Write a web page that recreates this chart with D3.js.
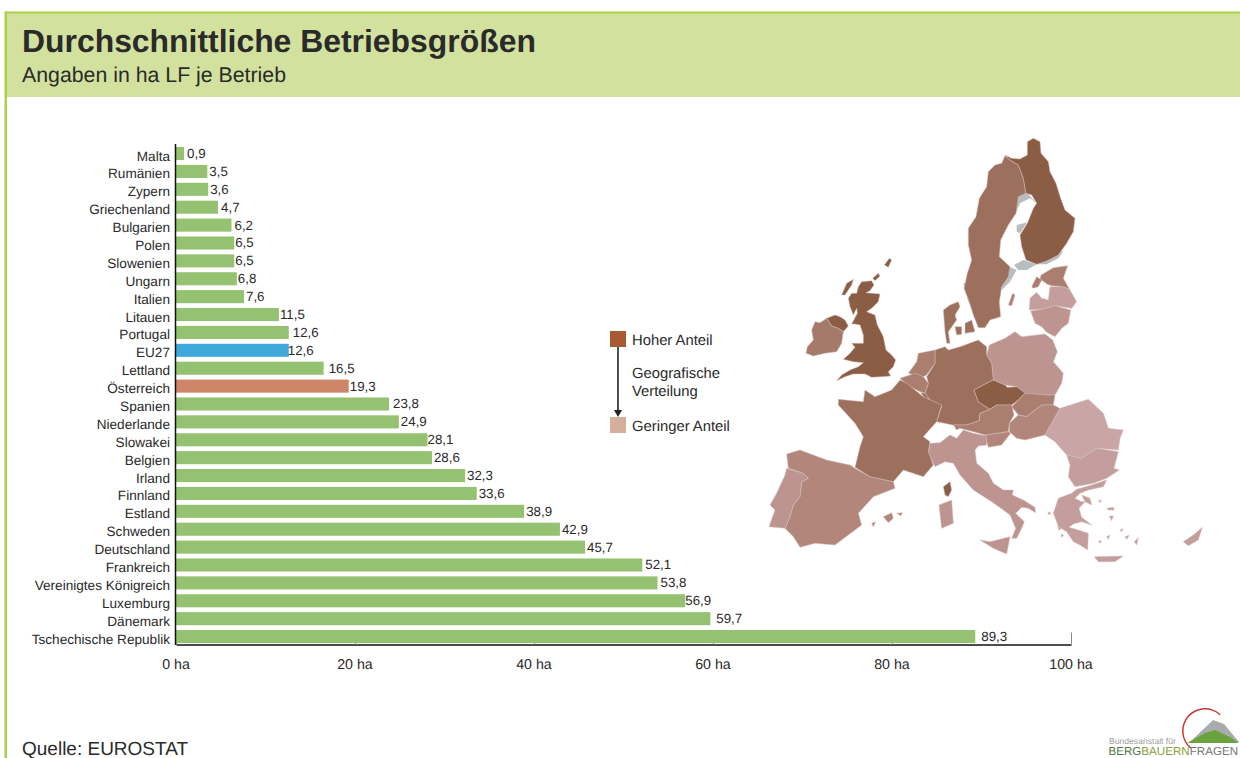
<!DOCTYPE html>
<html><head><meta charset="utf-8">
<script src="https://cdn.jsdelivr.net/npm/d3@7"></script>
<style>html,body{margin:0;padding:0;background:#fff;overflow:hidden}svg{display:block}text{font-family:"Liberation Sans",Arial,sans-serif;fill:#2a2a2a;text-rendering:geometricPrecision}</style>
</head><body><svg id="c" width="1240" height="758"></svg>
<script>
const categories=["Malta","Rumänien","Zypern","Griechenland","Bulgarien","Polen","Slowenien","Ungarn","Italien","Litauen","Portugal","EU27","Lettland","Österreich","Spanien","Niederlande","Slowakei","Belgien","Irland","Finnland","Estland","Schweden","Deutschland","Frankreich","Vereinigtes Königreich","Luxemburg","Dänemark","Tschechische Republik"];
const values=[0.9,3.5,3.6,4.7,6.2,6.5,6.5,6.8,7.6,11.5,12.6,12.6,16.5,19.3,23.8,24.9,28.1,28.6,32.3,33.6,38.9,42.9,45.7,52.1,53.8,56.9,59.7,89.3];
const labelGaps=[3,2,2,3,3,1,1,1,2,1,4,-1,5,1,4,2,0,2,2,2,2,2,2,3,3,0,6,6];
const xTicks=[0,20,40,60,80,100];
const highlight={"EU27":"#3fa9dc","Österreich":"#cf8568"};
const barColor="#95c270";
const tones={a:"#8c5d45",b:"#9d705e",c:"#ab7f70",d:"#b3867b",e:"#bd9490",f:"#c49e9d",g:"#c9a5a5",ie:"#a67a6b"};

// traced outlines: each group has the origin of its tracing sheet in map units
const sheets={uk:[120,360],nord:[540,15],mitte:[390,600],west:[15,750],sued:[495,900],map:[0,0]};
const coastShapes=[
["nord",[[222,390],[250,375],[290,388],[260,405],[235,405]]],
["nord",[[290,388],[330,372],[372,345],[355,370],[320,388]]],
["nord",[[208,395],[230,405],[210,440],[180,470],[178,500],[185,455]]],
["nord",[[232,180],[262,175],[290,205],[270,190],[240,205],[225,240]]],
["nord",[[230,270],[262,262],[240,295],[230,290]]],
["nord",[[70,445],[85,445],[90,490],[100,535],[85,500]]]
];
const mapShapes=[
["uk","a",[[185,95],[215,92],[222,105],[210,122],[198,128],[240,132],[235,155],[215,175],[200,185],[225,195],[232,225],[250,260],[258,300],[275,315],[287,330],[280,350],[265,365],[272,378],[245,380],[215,382],[195,372],[160,372],[135,380],[110,392],[125,375],[150,360],[175,350],[190,338],[160,335],[130,328],[150,310],[165,292],[155,280],[190,280],[190,255],[180,225],[165,222],[155,222],[172,190],[170,175],[160,195],[150,170],[145,145],[155,130],[170,130],[175,110]]],
["uk","a",[[125,135],[140,100],[160,88],[155,105],[135,135]]],
["uk","a",[[253,45],[268,25],[275,30],[265,52]]],
["uk","a",[[218,85],[235,70],[240,78],[225,92]]],
["uk","a",[[80,205],[105,195],[120,200],[135,210],[145,228],[130,245],[115,235],[95,228]]],
["uk","ie",[[45,215],[60,218],[80,205],[95,228],[115,235],[130,245],[125,280],[110,305],[75,310],[40,318],[18,310],[22,290],[40,270],[35,240]]],
["nord","b",[[195,62],[210,75],[235,90],[250,130],[258,175],[235,185],[228,235],[205,270],[182,315],[178,365],[210,395],[205,425],[185,455],[178,500],[182,545],[150,555],[135,578],[115,578],[100,540],[88,500],[72,460],[82,415],[95,375],[85,330],[85,280],[108,245],[118,190],[140,155],[145,110],[165,90],[185,85]]],
["nord","a",[[262,20],[280,10],[300,20],[303,55],[325,80],[330,110],[348,145],[362,190],[375,225],[405,250],[400,290],[380,325],[355,360],[320,378],[290,388],[258,375],[245,335],[240,300],[262,265],[280,220],[290,205],[275,180],[258,175],[250,130],[235,90],[210,75],[195,60],[215,70],[240,72],[262,60]]],
["nord","c",[[205,510],[218,475],[225,480],[215,512]]],
["nord","c",[[303,420],[340,398],[383,392],[370,430],[388,462],[365,455],[335,452],[322,448],[300,432]]],
["nord","c",[[275,455],[290,425],[305,435],[295,455],[280,460]]],
["nord","f",[[268,525],[270,490],[290,472],[305,490],[325,495],[330,455],[365,455],[388,462],[410,500],[395,520],[345,512],[310,522]]],
["nord","e",[[272,528],[310,522],[345,512],[392,525],[385,565],[365,580],[345,605],[320,592],[305,575],[285,565]]],
["nord","b",[[10,525],[30,510],[55,500],[60,515],[45,540],[50,555],[25,590],[30,625],[20,625],[15,590]]],
["nord","b",[[75,565],[95,555],[105,590],[75,595]]],
["nord","b",[[45,575],[65,575],[65,598],[50,600]]],
["mitte","e",[[298,45],[345,25],[375,5],[395,20],[465,12],[488,30],[502,65],[490,95],[520,130],[515,160],[495,195],[470,195],[400,195],[380,170],[345,165],[310,150],[305,100],[290,75]]],
["mitte","b",[[135,60],[165,50],[175,60],[210,50],[265,30],[290,50],[290,75],[305,100],[310,150],[280,165],[252,180],[265,215],[300,238],[270,250],[268,272],[230,285],[188,285],[140,275],[155,228],[120,210],[105,190],[115,160],[110,140],[135,100]]],
["mitte","a",[[252,180],[280,165],[310,150],[345,165],[352,172],[380,170],[405,190],[385,210],[365,225],[320,225],[300,238],[265,215]]],
["mitte","c",[[55,130],[80,95],[85,70],[135,60],[135,100],[110,135],[100,140],[75,135]]],
["mitte","c",[[30,145],[75,130],[100,140],[115,160],[105,190],[90,185],[50,165]]],
["mitte","b",[[92,188],[107,190],[118,208],[105,205]]],
["mitte","c",[[405,190],[470,195],[495,195],[490,225],[455,225],[410,260],[385,255],[365,230]]],
["mitte","d",[[358,280],[385,255],[410,260],[455,225],[490,225],[510,235],[485,280],[465,315],[405,330],[380,325],[358,305]]],
["mitte","c",[[190,285],[230,285],[268,272],[270,250],[300,238],[320,225],[365,225],[372,255],[358,280],[355,305],[285,315],[250,305],[210,295],[200,300]]],
["mitte","d",[[285,315],[355,305],[362,310],[335,345],[295,352]]],
["map","g",[[985,808],[1030,850],[1045,895],[1090,900],[1080,925],[1075,960],[1010,955],[965,985],[920,975],[885,935],[855,915],[875,880],[900,835]]],
["map","f",[[920,975],[965,985],[1010,955],[1075,965],[1062,1015],[1078,1020],[1040,1045],[1000,1060],[945,1070],[925,1040],[930,1005]]],
["sued","e",[[150,60],[155,100],[190,130],[205,160],[235,180],[265,180],[262,195],[295,210],[330,232],[332,248],[310,235],[290,232],[272,250],[298,275],[290,295],[275,325],[260,325],[272,295],[255,255],[235,240],[200,215],[145,180],[105,135],[85,100],[60,95],[30,110],[10,70],[15,40],[45,38],[75,15],[95,25],[115,0],[145,10],[185,18],[185,45],[160,48]]],
["sued","e",[[165,330],[195,335],[255,320],[245,372],[205,355]]],
["sued","e",[[42,225],[80,210],[85,280],[50,295]]],
["sued","a",[[55,170],[75,155],[80,180],[70,200],[60,195]]],
["sued","f",[[385,250],[400,205],[440,190],[455,178],[500,165],[545,150],[535,170],[490,180],[465,190],[450,205],[470,215],[480,215],[462,235],[470,262],[500,285],[470,275],[445,282],[432,292],[460,300],[490,310],[488,360],[465,345],[445,335],[425,305],[400,290],[395,275]]],
["sued","f",[[470,195],[495,205],[500,225],[480,215]]],
["sued","f",[[520,210],[530,212],[525,218]]],
["sued","f",[[545,235],[565,232],[568,240],[550,240]]],
["sued","f",[[553,258],[565,258],[560,272]]],
["sued","f",[[628,335],[640,322],[635,345]]],
["sued","f",[[508,380],[595,378],[570,395],[520,395]]],
["sued","f",[[545,320],[555,315],[550,328]]],
["sued","f",[[585,300],[595,296],[590,305]]],
["sued","f",[[600,320],[612,316],[606,328]]],
["sued","f",[[520,335],[528,330],[526,340]]],
["sued","f",[[368,245],[378,250],[372,255]]],
["sued","f",[[398,290],[408,295],[403,302]]],
["sued","f",[[408,312],[416,316],[410,322]]],
["sued","f",[[775,335],[805,315],[832,292],[820,330],[790,347]]],
["west","d",[[65,222],[105,210],[185,240],[255,255],[270,265],[315,290],[385,305],[390,325],[325,350],[280,400],[290,435],[250,465],[210,495],[150,490],[105,502],[85,470],[60,445],[75,410],[85,375],[105,350],[110,305],[130,295],[115,280],[70,265]]],
["west","e",[[65,265],[115,280],[130,295],[110,305],[105,350],[85,375],[75,410],[60,445],[12,440],[30,390],[15,375],[35,340],[60,285]]],
["west","d",[[355,410],[380,398],[385,415],[370,428]]],
["west","d",[[320,430],[332,425],[325,440]]],
["west","d",[[395,400],[412,398],[408,408]]],
["west","b",[[380,30],[405,0],[425,10],[475,50],[530,75],[515,125],[475,170],[495,185],[490,215],[505,255],[475,290],[415,270],[385,305],[315,290],[270,262],[285,200],[295,170],[270,130],[220,75],[220,58],[295,65],[300,30],[330,50]]]
];
const legendLabels=["Hoher Anteil","Geringer Anteil"];
const legendColors=["#a85a32","#d4b09a"];
const legendNote=["Geografische","Verteilung"];

const svg=d3.select("#c");
svg.append("rect").attr("x",7).attr("y",13).attr("width",1233).attr("height",84).attr("fill","#d2e29e");
svg.append("rect").attr("x",5).attr("y",11.5).attr("width",1235).attr("height",2).attr("fill","#a9d046");
svg.append("rect").attr("x",4.5).attr("y",11.5).attr("width",2.5).attr("height",746.5).attr("fill","#a9d046");
svg.append("text").attr("x",22).attr("y",52).attr("font-size",31.9).attr("font-weight","bold").text("Durchschnittliche Betriebsgrößen");
svg.append("text").attr("x",22).attr("y",82).attr("font-size",21.3).text("Angaben in ha LF je Betrieb");
svg.append("text").attr("x",22).attr("y",754.5).attr("font-size",19).text("Quelle: EUROSTAT");

const x=d3.scaleLinear().domain([0,100]).range([176,1071]);
const y=d3.scaleBand().domain(categories).range([144.6,645.5]).paddingInner(0.27).paddingOuter(0.135);
const g=svg.append("g");
const axisG=g.append("g").attr("transform","translate(0,644.5)");
axisG.call(d3.axisBottom(x).tickValues(xTicks).tickSize(-12).tickSizeOuter(0).tickPadding(0).tickFormat(()=>""));
axisG.select(".domain").attr("stroke","#111").attr("stroke-width",1.5);
axisG.selectAll(".tick line").attr("stroke","#888").attr("stroke-width",1);
g.selectAll("rect.bar").data(categories).join("rect").attr("class","bar")
 .attr("x",x(0)).attr("y",d=>y(d)).attr("height",y.bandwidth())
 .attr("width",(d,i)=>x(values[i])-x(0)).attr("fill",d=>highlight[d]||barColor);
g.selectAll("text.tl").data(xTicks).join("text").attr("class","tl").attr("x",d=>x(d)).attr("y",669)
 .attr("text-anchor","middle").attr("font-size",14.2).text(d=>d+" ha");
g.append("line").attr("x1",175.5).attr("x2",175.5).attr("y1",144).attr("y2",645).attr("stroke","#111").attr("stroke-width",1.5);
g.selectAll("text.cat").data(categories).join("text").attr("class","cat").attr("x",170)
 .attr("y",d=>y(d)+y.bandwidth()/2+7).attr("text-anchor","end").attr("font-size",13.6).text(d=>d);
const fmt=v=>d3.format(".1f")(v).replace(".",",");
g.selectAll("text.val").data(categories).join("text").attr("class","val")
 .attr("x",(d,i)=>x(values[i])+labelGaps[i]).attr("y",d=>y(d)+y.bandwidth()/2+4.5).attr("font-size",13.3).text((d,i)=>fmt(values[i]));

const mx=d3.scaleLinear().domain([0,1350]).range([760,1210]);
const my=d3.scaleLinear().domain([0,1320]).range([130,570]);
const line=(s,pts)=>d3.line().x(p=>mx(p[0]+sheets[s][0])).y(p=>my(p[1]+sheets[s][1])).curve(d3.curveLinearClosed)(pts);
const m=svg.append("g");
m.selectAll("path.coast").data(coastShapes).join("path").attr("class","coast").attr("d",d=>line(d[0],d[1])).attr("fill","#b7bec2");
m.selectAll("path.land").data(mapShapes).join("path").attr("class","land").attr("d",d=>line(d[0],d[2]))
 .attr("fill",d=>tones[d[1]]).attr("stroke","#d3bfba").attr("stroke-width",0.5);

const lg=svg.append("g");
const squareY=[331,417];
legendLabels.forEach((t,i)=>{
 lg.append("rect").attr("x",610).attr("y",squareY[i]).attr("width",16).attr("height",16).attr("fill",legendColors[i]);
 lg.append("text").attr("x",632).attr("y",squareY[i]+14).attr("font-size",14.8).text(t);
});
lg.append("line").attr("x1",618).attr("x2",618).attr("y1",347).attr("y2",411).attr("stroke","#222").attr("stroke-width",1.6);
lg.append("path").attr("d",d3.line()([[614,410],[622,410],[618,417]])+"Z").attr("fill","#222");
legendNote.forEach((t,i)=>lg.append("text").attr("x",632).attr("y",378+i*18).attr("font-size",14.8).text(t));

const lo=svg.append("g");
lo.append("path").attr("d",d3.arc()({innerRadius:21.5,outerRadius:23,startAngle:-2.45,endAngle:0.75})).attr("transform","translate(1205,731)").attr("fill","#c8372f");
lo.append("path").attr("d",d3.line()([[1190,742],[1213,720],[1224,724],[1239,742]])+"Z").attr("fill","#a9acae");
lo.append("path").attr("d",d3.line()([[1187,743],[1205,733],[1215,730],[1230,737],[1239,743]])+"Z").attr("fill","#6aa33d");
lo.append("text").attr("x",1109).attr("y",744).attr("font-size",8.6).style("fill","#a0a0a0").text("Bundesanstalt für");
const lt=lo.append("text").attr("x",1108.5).attr("y",755).attr("font-size",11.6);
lt.append("tspan").style("fill","#55753f").text("BERG");
lt.append("tspan").style("fill","#8aa03c").text("BAUERN");
lt.append("tspan").style("fill","#777").text("FRAGEN");
</script></body></html>
